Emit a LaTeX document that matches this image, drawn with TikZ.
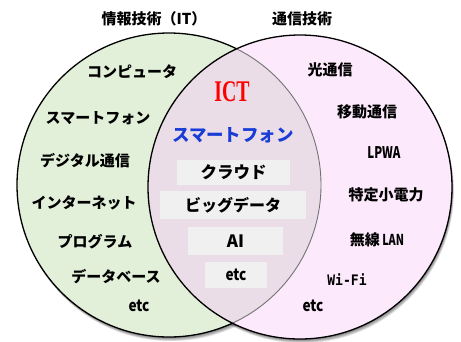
\documentclass[tikz,border=0pt]{standalone}
\usepackage{fontspec}
\usepackage{graphicx}
\newfontfamily\jp{Noto Sans CJK JP}
\newfontfamily\ictfont{Liberation Serif}
\newfontfamily\monof{DejaVu Sans Mono}
\definecolor{lgreen}{RGB}{226,239,217}
\definecolor{lpink}{RGB}{252,233,252}
\definecolor{lover}{RGB}{234,221,231}
\definecolor{boxgray}{RGB}{241,240,241}
\definecolor{ictred}{RGB}{255,0,0}
\definecolor{jblue}{RGB}{25,60,215}
\newcommand{\cnd}[2][0.8]{\scalebox{#1}[1]{#2}}
\begin{document}
\begin{tikzpicture}[x=1pt,y=-1pt,
  lbl/.style={font=\jp\bfseries\fontsize{15}{15}\selectfont, inner sep=0pt, text=black},
  ttl/.style={font=\jp\bfseries\fontsize{15}{15}\selectfont, inner sep=0pt},
  lat/.style={font=\jp\bfseries\fontsize{16}{16}\selectfont, inner sep=0pt},
  cbox/.style={fill=boxgray, inner sep=0pt, font=\jp\bfseries\fontsize{16.5}{16.5}\selectfont},
  outl/.style={line width=1.3pt, draw=black}]
\useasboundingbox (0,0) rectangle (461,341);
\coordinate (L) at (169,185);
\coordinate (R) at (300,187);
% soft shadows
\foreach \s in {0.6,1.2,...,4.2} {
  \fill[black, opacity=0.09] ([shift={(0.45*\s,\s)}]L) circle (152pt);
  \fill[black, opacity=0.09] ([shift={(0.45*\s,\s)}]R) circle (152pt);
}
% circles
\fill[lgreen] (L) circle (152pt);
\draw[outl] (L) circle (152pt);
\fill[lpink] (R) circle (152pt);
\begin{scope}
  \clip (L) circle (152pt);
  \fill[lover] (R) circle (152pt);
\end{scope}
\begin{scope}
  \clip (R) circle (152pt);
  \draw[line width=0.9pt, draw=black!55] (L) circle (152pt);
\end{scope}
\draw[outl] (R) circle (152pt);
% titles
\node[ttl] (t1) at (154,19) {情報技術（IT）};
\node[ttl] (t2) at (302,19) {通信技術};
% left
\node[lbl] (l1) at (132,72) {コンピュータ};
\node[lbl] (l2) at (98,118) {スマートフォン};
\node[lbl] (l3) at (85,161) {デジタル通信};
\node[lbl] (l4) at (84,203) {インターネット};
\node[lbl] (l5) at (95,242) {プログラム};
\node[lbl] (l6) at (116,277) {データベース};
\node[lat] (l7) at (139,306) {\cnd[0.85]{etc}};
% right
\node[lbl] (r1) at (330,70) {光通信};
\node[lbl] (r2) at (367,112) {移動通信};
\node[lat] (r3) at (384,153) {\cnd[0.72]{LPWA}};
\node[lbl] (r4) at (386,195) {特定小電力};
\node[lbl] (r5) at (377,240) {無線\,\cnd[0.72]{LAN}};
\node[inner sep=0pt, font=\monof\bfseries\fontsize{14.5}{14.5}\selectfont] (r6) at (347,280) {\cnd[0.9]{Wi-Fi}};
\node[lat] (r7) at (313,306) {\cnd[0.85]{etc}};
% center
\node[inner sep=0pt, text=ictred, font=\ictfont\bfseries\fontsize{30}{30}\selectfont] (ict) at (232,92) {\cnd[0.66]{ICT}};
\node[inner sep=0pt, text=jblue, font=\jp\bfseries\fontsize{17.5}{17.5}\selectfont] (c1) at (233,135) {スマートフォン};
\node[cbox, minimum width=113pt, minimum height=25pt] (c2) at (233.5,172.5) {クラウド};
\node[cbox, minimum width=146pt, minimum height=28pt, font=\jp\bfseries\fontsize{16}{16}\selectfont] (c3) at (233,205) {ビッグデータ};
\node[cbox, minimum width=95pt, minimum height=28pt, font=\jp\bfseries\fontsize{17}{17}\selectfont] (c4) at (235.5,241) {AI};
\node[cbox, minimum width=62pt, minimum height=26pt, font=\jp\bfseries\fontsize{16}{16}\selectfont] (c5) at (236,275) {\cnd[0.85]{etc}};
\end{tikzpicture}
\end{document}
